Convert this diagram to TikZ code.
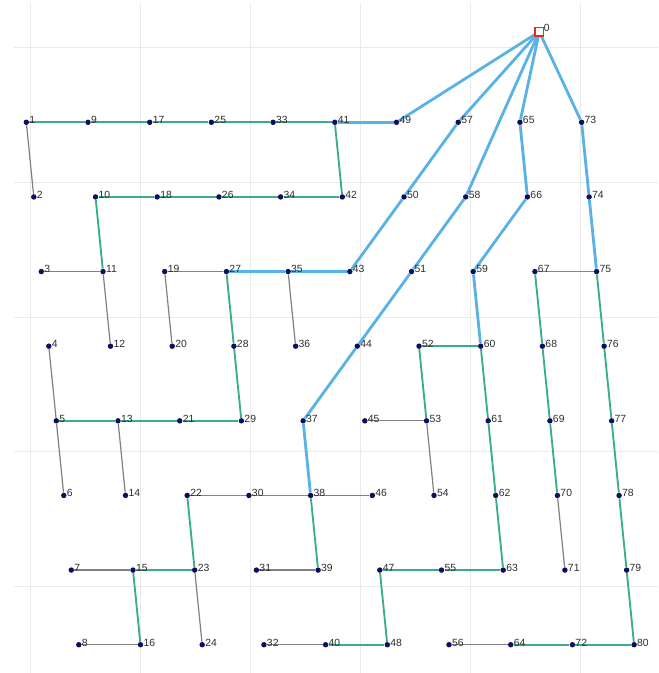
\documentclass[tikz,border=0pt]{standalone}
\usepackage{fontspec}
\setmainfont{Liberation Sans}
\pgfdeclarelayer{bg}
\pgfsetlayers{bg,main}
\definecolor{gridc}{RGB}{234,234,234}
\definecolor{trunk}{RGB}{88,178,228}
\definecolor{branch}{RGB}{58,174,138}
\definecolor{leaf}{RGB}{128,128,128}
\definecolor{dotc}{RGB}{14,14,96}
\definecolor{txt}{RGB}{45,45,45}
\definecolor{depotc}{RGB}{232,40,40}
\tikzset{
  dotnode/.style={circle,fill=dotc,draw=none,inner sep=0pt,minimum size=4.1pt},
  lbl/.style={anchor=west,inner sep=0pt,font=\fontsize{7.8}{8}\selectfont,text=txt},
  trunkline/.style={draw=trunk,line width=2.1pt},
  branchline/.style={draw=branch,line width=1.4pt},
  leafline/.style={draw=leaf,line width=0.9pt},
  gridline/.style={draw=gridc,line width=0.75pt},
  depot/.style={rectangle,draw=depotc,fill=white,line width=1.1pt,inner sep=0pt,minimum size=6.3pt}
}
\begin{document}
\begin{tikzpicture}[x=0.75pt,y=-0.75pt]
\useasboundingbox (0,0) rectangle (658,673);
\begin{pgfonlayer}{bg}
\foreach \gx in {30,140,250,360,470,580} \draw[gridline] (\gx,3) -- (\gx,673);
\foreach \gy in {48,182.5,317,451.5,586} \draw[gridline] (14,\gy) -- (658,\gy);
\end{pgfonlayer}
% customers
\foreach \c in {0,...,9}{
  \foreach \r in {0,...,7}{
    \pgfmathtruncatemacro\n{1+8*\c+\r}
    \pgfmathsetmacro\px{26.3+61.7*\c+7.5*\r}
    \pgfmathsetmacro\py{122.3+74.63*\r}
    \node[dotnode] (n\n) at (\px,\py) {};
    \node[lbl] (l\n) at (\px+2.8,\py-2.2) {\n};
  }
}
% depot
\node[depot] (n0) at (539.3,31.7) {};
\node[lbl] (l0) at (543.6,27.5) {0};
\begin{pgfonlayer}{bg}
\foreach \a/\b in {1/2,11/3,11/12,19/20,35/36,5/4,5/6,13/14,15/7,16/8,23/24,39/31,40/32,38/46,53/45,53/54,70/71,64/56}
  \draw[leafline] (n\a) -- (n\b);
\foreach \a/\b in {41/33,33/25,25/17,17/9,9/1,41/42,42/34,34/26,26/18,18/10,10/11,27/19,27/28,28/29,29/21,21/13,13/5,38/39,38/30,30/22,22/23,23/15,15/16,60/52,52/53,60/61,61/62,62/63,63/55,55/47,47/48,48/40,75/67,67/68,68/69,69/70,75/76,76/77,77/78,78/79,79/80,80/72,72/64}
  \draw[branchline] (n\a) -- (n\b);
\foreach \a/\b in {0/49,49/41,0/57,57/50,50/43,43/35,35/27,0/58,58/51,51/44,44/37,37/38,0/65,65/66,66/59,59/60,0/73,73/74,74/75}
  \draw[trunkline] (n\a) -- (n\b);
\end{pgfonlayer}
\end{tikzpicture}
\end{document}
